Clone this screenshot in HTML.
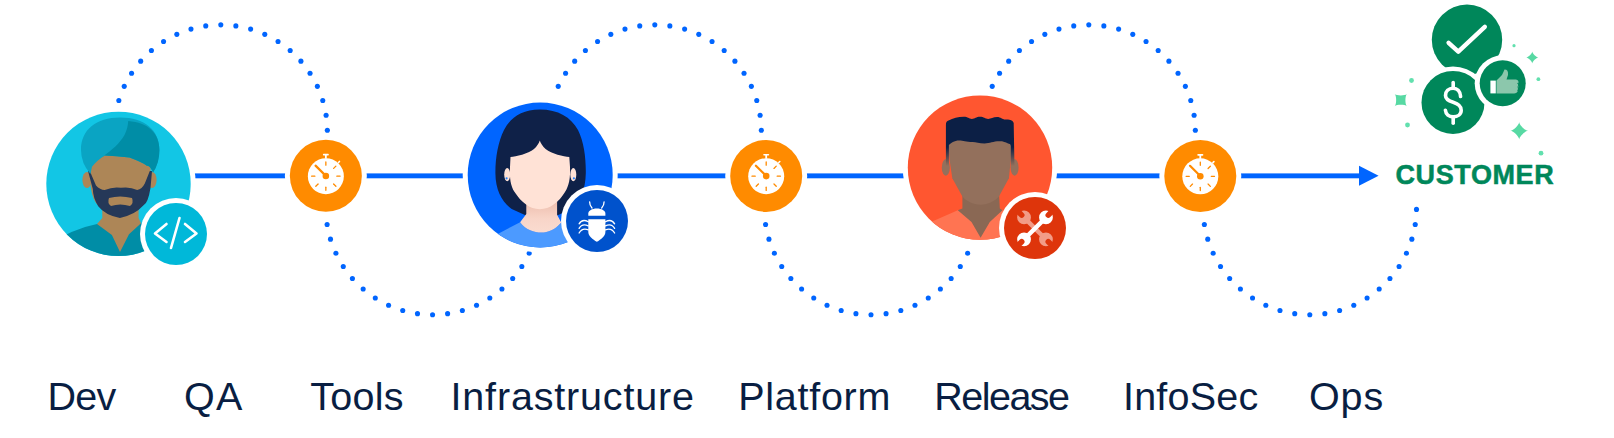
<!DOCTYPE html>
<html><head><meta charset="utf-8"><style>
html,body{margin:0;padding:0;background:#fff;}
body{width:1614px;height:438px;position:relative;overflow:hidden;font-family:"Liberation Sans",sans-serif;}
svg{position:absolute;left:0;top:0;}
.lb{position:absolute;top:373px;font-size:39.5px;line-height:46px;color:#091E42;white-space:nowrap;}
.cust{position:absolute;left:1395.5px;top:160.6px;font-size:27px;line-height:28px;font-weight:bold;color:#00875A;letter-spacing:0.6px;-webkit-text-stroke:0.5px #00875A;white-space:nowrap;}
</style></head><body>
<svg width="1614" height="438" viewBox="0 0 1614 438">
<g fill="#0065FF">
<circle cx="118.84" cy="100.47" r="2.55"/>
<circle cx="124.23" cy="86.37" r="2.55"/>
<circle cx="131.57" cy="73.18" r="2.55"/>
<circle cx="140.69" cy="61.15" r="2.55"/>
<circle cx="151.42" cy="50.53" r="2.55"/>
<circle cx="163.55" cy="41.54" r="2.55"/>
<circle cx="176.83" cy="34.35" r="2.55"/>
<circle cx="190.98" cy="29.11" r="2.55"/>
<circle cx="205.74" cy="25.92" r="2.55"/>
<circle cx="220.80" cy="24.85" r="2.55"/>
<circle cx="235.86" cy="25.92" r="2.55"/>
<circle cx="250.62" cy="29.11" r="2.55"/>
<circle cx="264.77" cy="34.35" r="2.55"/>
<circle cx="278.05" cy="41.54" r="2.55"/>
<circle cx="290.18" cy="50.53" r="2.55"/>
<circle cx="300.91" cy="61.15" r="2.55"/>
<circle cx="310.03" cy="73.18" r="2.55"/>
<circle cx="317.37" cy="86.37" r="2.55"/>
<circle cx="322.76" cy="100.47" r="2.55"/>
<circle cx="326.11" cy="115.19" r="2.55"/>
<circle cx="327.34" cy="130.24" r="2.55"/>
<circle cx="327.12" cy="224.44" r="2.55"/>
<circle cx="330.50" cy="239.15" r="2.55"/>
<circle cx="335.92" cy="253.24" r="2.55"/>
<circle cx="343.27" cy="266.43" r="2.55"/>
<circle cx="352.41" cy="278.45" r="2.55"/>
<circle cx="363.16" cy="289.05" r="2.55"/>
<circle cx="375.29" cy="298.03" r="2.55"/>
<circle cx="388.57" cy="305.22" r="2.55"/>
<circle cx="402.73" cy="310.45" r="2.55"/>
<circle cx="417.49" cy="313.63" r="2.55"/>
<circle cx="432.55" cy="314.70" r="2.55"/>
<circle cx="447.61" cy="313.63" r="2.55"/>
<circle cx="462.37" cy="310.45" r="2.55"/>
<circle cx="476.53" cy="305.22" r="2.55"/>
<circle cx="489.81" cy="298.03" r="2.55"/>
<circle cx="501.94" cy="289.05" r="2.55"/>
<circle cx="512.69" cy="278.45" r="2.55"/>
<circle cx="521.83" cy="266.43" r="2.55"/>
<circle cx="529.18" cy="253.24" r="2.55"/>
<circle cx="558.23" cy="86.37" r="2.55"/>
<circle cx="565.57" cy="73.18" r="2.55"/>
<circle cx="574.69" cy="61.15" r="2.55"/>
<circle cx="585.42" cy="50.53" r="2.55"/>
<circle cx="597.55" cy="41.54" r="2.55"/>
<circle cx="610.83" cy="34.35" r="2.55"/>
<circle cx="624.98" cy="29.11" r="2.55"/>
<circle cx="639.74" cy="25.92" r="2.55"/>
<circle cx="654.80" cy="24.85" r="2.55"/>
<circle cx="669.86" cy="25.92" r="2.55"/>
<circle cx="684.62" cy="29.11" r="2.55"/>
<circle cx="698.77" cy="34.35" r="2.55"/>
<circle cx="712.05" cy="41.54" r="2.55"/>
<circle cx="724.18" cy="50.53" r="2.55"/>
<circle cx="734.91" cy="61.15" r="2.55"/>
<circle cx="744.03" cy="73.18" r="2.55"/>
<circle cx="751.37" cy="86.37" r="2.55"/>
<circle cx="756.76" cy="100.47" r="2.55"/>
<circle cx="760.11" cy="115.19" r="2.55"/>
<circle cx="761.34" cy="130.24" r="2.55"/>
<circle cx="765.57" cy="224.44" r="2.55"/>
<circle cx="768.95" cy="239.15" r="2.55"/>
<circle cx="774.37" cy="253.24" r="2.55"/>
<circle cx="781.72" cy="266.43" r="2.55"/>
<circle cx="790.86" cy="278.45" r="2.55"/>
<circle cx="801.61" cy="289.05" r="2.55"/>
<circle cx="813.74" cy="298.03" r="2.55"/>
<circle cx="827.02" cy="305.22" r="2.55"/>
<circle cx="841.18" cy="310.45" r="2.55"/>
<circle cx="855.94" cy="313.63" r="2.55"/>
<circle cx="871.00" cy="314.70" r="2.55"/>
<circle cx="886.06" cy="313.63" r="2.55"/>
<circle cx="900.82" cy="310.45" r="2.55"/>
<circle cx="914.98" cy="305.22" r="2.55"/>
<circle cx="928.26" cy="298.03" r="2.55"/>
<circle cx="940.39" cy="289.05" r="2.55"/>
<circle cx="951.14" cy="278.45" r="2.55"/>
<circle cx="960.28" cy="266.43" r="2.55"/>
<circle cx="967.63" cy="253.24" r="2.55"/>
<circle cx="992.23" cy="86.37" r="2.55"/>
<circle cx="999.57" cy="73.18" r="2.55"/>
<circle cx="1008.69" cy="61.15" r="2.55"/>
<circle cx="1019.42" cy="50.53" r="2.55"/>
<circle cx="1031.55" cy="41.54" r="2.55"/>
<circle cx="1044.83" cy="34.35" r="2.55"/>
<circle cx="1058.98" cy="29.11" r="2.55"/>
<circle cx="1073.74" cy="25.92" r="2.55"/>
<circle cx="1088.80" cy="24.85" r="2.55"/>
<circle cx="1103.86" cy="25.92" r="2.55"/>
<circle cx="1118.62" cy="29.11" r="2.55"/>
<circle cx="1132.77" cy="34.35" r="2.55"/>
<circle cx="1146.05" cy="41.54" r="2.55"/>
<circle cx="1158.18" cy="50.53" r="2.55"/>
<circle cx="1168.91" cy="61.15" r="2.55"/>
<circle cx="1178.03" cy="73.18" r="2.55"/>
<circle cx="1185.37" cy="86.37" r="2.55"/>
<circle cx="1190.76" cy="100.47" r="2.55"/>
<circle cx="1194.11" cy="115.19" r="2.55"/>
<circle cx="1195.34" cy="130.24" r="2.55"/>
<circle cx="1204.37" cy="224.44" r="2.55"/>
<circle cx="1207.75" cy="239.15" r="2.55"/>
<circle cx="1213.17" cy="253.24" r="2.55"/>
<circle cx="1220.52" cy="266.43" r="2.55"/>
<circle cx="1229.66" cy="278.45" r="2.55"/>
<circle cx="1240.41" cy="289.05" r="2.55"/>
<circle cx="1252.54" cy="298.03" r="2.55"/>
<circle cx="1265.82" cy="305.22" r="2.55"/>
<circle cx="1279.98" cy="310.45" r="2.55"/>
<circle cx="1294.74" cy="313.63" r="2.55"/>
<circle cx="1309.80" cy="314.70" r="2.55"/>
<circle cx="1324.86" cy="313.63" r="2.55"/>
<circle cx="1339.62" cy="310.45" r="2.55"/>
<circle cx="1353.78" cy="305.22" r="2.55"/>
<circle cx="1367.06" cy="298.03" r="2.55"/>
<circle cx="1379.19" cy="289.05" r="2.55"/>
<circle cx="1389.94" cy="278.45" r="2.55"/>
<circle cx="1399.08" cy="266.43" r="2.55"/>
<circle cx="1406.43" cy="253.24" r="2.55"/>
<circle cx="1411.85" cy="239.15" r="2.55"/>
<circle cx="1415.23" cy="224.44" r="2.55"/>
<circle cx="1416.49" cy="209.39" r="2.55"/>
</g>
<rect x="185" y="173.4" width="1175" height="4.9" fill="#0065FF"/>
<polygon points="1359,165.7 1378.6,175.85 1359,185.8" fill="#0065FF"/>

<circle cx="118.5" cy="183.9" r="77.2" fill="#fff"/>
<clipPath id="cdev"><circle cx="118.5" cy="183.9" r="72.2"/></clipPath>
<circle cx="118.5" cy="183.9" r="72.2" fill="#12C6E5"/>
<g clip-path="url(#cdev)">
  <!-- shirt -->
  <path d="M30,262 L40,250 Q70,229 97,223.9 L141,223.2 Q165,229 190,250 L220,262 L220,300 L30,300 Z" fill="#008DA6"/>
  <!-- neck -->
  <path d="M102.3,205 L138.6,205 L138.6,218 L141,223.2 L129,234.3 L120,252.1 L111.9,235 L97,223.9 L102.3,218 Z" fill="#AD8657"/>
  <!-- ears -->
  <ellipse cx="87" cy="180" rx="4.6" ry="8" fill="#AD8657"/>
  <ellipse cx="152" cy="180" rx="4.6" ry="8" fill="#AD8657"/>
  <!-- face -->
  <path d="M90,150 L150.5,150 L150.5,180 Q149,196 144,203 Q134,215 120,218 Q106,215 96,203 Q91,196 90,180 Z" fill="#AD8657"/>
  <!-- beard -->
  <path d="M89.8,171 L96,185.6 Q100,190 104.7,190 Q113,186.5 121,187.8 Q130,186.5 137.2,190 Q142,189 144.8,183.4 L149.8,171 L152,171 L150.5,188 Q148,203 143.8,205.1 Q135,215 119.9,218 Q105,215 98.2,206.2 Q93,198 92.8,189 L88,171 Z" fill="#253858"/>
  <!-- mouth -->
  <path d="M109,198 Q120,195 132,198 Q134,203 130,206 Q120,203 111,206 Q107,203 109,198 Z" fill="#AD8657"/>
  <!-- turban -->
  <path d="M81,150 C81,130 96,117.6 120.2,117.6 C144.5,117.6 159.4,130 159.4,150 Q159.4,163 153,172.5 Q150,165 146.9,165.7 Q141.8,162.1 129.5,157.5 Q116.1,156 104.8,155.4 Q96.6,160.5 92,166.7 L90.4,174 Q81,163 81,150 Z" fill="#0AA4C3"/>
  <path d="M128.2,121 C148,122.5 159.4,133 159.4,150 Q159.4,163 153,172.5 Q150,165 146.9,165.7 Q141.8,162.1 129.5,157.5 Q116.1,156 104.8,155.4 L102.4,157 C112,150 120,143 124.5,135 C127,130 128,125 128.2,121 Z" fill="#008DA6"/>
</g>
<circle cx="176" cy="234" r="36" fill="#fff"/>
<circle cx="176" cy="234" r="31" fill="#00B8D9"/>
<g stroke="#fff" stroke-width="2.6" fill="none" stroke-linecap="round" stroke-linejoin="round">
  <polyline points="166.5,224 155,233.5 166.5,242"/>
  <polyline points="185,224 196.5,233.5 185,242"/>
  <line x1="179.5" y1="218" x2="171" y2="248"/>
</g>


<circle cx="325.85" cy="175.85" r="41" fill="#fff"/>
<circle cx="325.85" cy="175.85" r="36" fill="#FF8B00"/>
<rect x="324.95000000000005" y="154.65" width="1.8" height="4" fill="#fff"/>
<rect x="322.85" y="153.85" width="6" height="1.7" rx="0.8" fill="#fff"/>
<line x1="338.45000000000005" y1="162.45" x2="339.45000000000005" y2="161.45" stroke="#fff" stroke-width="1.6" stroke-linecap="round"/>
<circle cx="325.85" cy="176.15" r="18" fill="#fff"/>
<g stroke="#FF8B00" stroke-width="1.3" stroke-linecap="round"><line x1="325.85" y1="165.15" x2="325.85" y2="161.95"/><line x1="333.63" y1="168.37" x2="335.89" y2="166.11"/><line x1="336.85" y1="176.15" x2="340.05" y2="176.15"/><line x1="333.63" y1="183.93" x2="335.89" y2="186.19"/><line x1="325.85" y1="187.15" x2="325.85" y2="190.35"/><line x1="318.07" y1="183.93" x2="315.81" y2="186.19"/><line x1="314.85" y1="176.15" x2="311.65" y2="176.15"/></g>
<line x1="325.85" y1="175.85" x2="315.55" y2="165.65" stroke="#FF8B00" stroke-width="2.2" stroke-linecap="round"/>
<circle cx="325.85" cy="176.04999999999998" r="3.3" fill="#FF8B00"/>


<circle cx="540.2" cy="175" r="77.5" fill="#fff"/>
<clipPath id="cinf"><circle cx="540.2" cy="175" r="72.5"/></clipPath>
<linearGradient id="neckg" x1="0" y1="0" x2="0" y2="1">
  <stop offset="0" stop-color="#EBB9A8"/><stop offset="0.6" stop-color="#F8D5C8"/><stop offset="1" stop-color="#FADBD0"/>
</linearGradient>
<circle cx="540.2" cy="175" r="72.5" fill="#0065FF"/>
<g clip-path="url(#cinf)">
  <!-- hair back -->
  <path d="M539.8,109.4 C558,109.4 571,117 578,130 C584,142 586,158 585.8,173.2 C585.5,190 580,203 569.5,210 L557,215.5 L526,215.5 L511.7,209 C502,202 495.5,190 495.4,173.2 C495.3,158 498,142 504,130 C511,117 522,109.4 539.8,109.4 Z" fill="#0F2148"/>
  <!-- shirt -->
  <path d="M470,262 L498.2,233.8 L520.1,222.2 C526,230 534,232.5 541.4,232.5 C548,232.5 555,230 561.2,222.5 L600,236 L620,262 Z" fill="#4C9AFF"/>
  <!-- neck -->
  <path d="M526.3,198 L557.1,198 L557.1,214.7 L561.2,222.5 C555,230 548,232.5 541.4,232.5 C534,232.5 526,230 520.1,222.2 L526.3,214 Z" fill="url(#neckg)"/>
  <!-- ears -->
  <ellipse cx="507.2" cy="174.6" rx="3" ry="6.6" fill="#FFE2D6"/>
  <ellipse cx="573.3" cy="174.6" rx="3" ry="6.6" fill="#FFE2D6"/>
  <circle cx="506.6" cy="178.3" r="1.1" fill="#2684FF"/>
  <circle cx="573.9" cy="178.3" r="1.1" fill="#2684FF"/>
  <!-- face -->
  <path d="M510.5,157 C516,156.5 528,154 534,149 C537,146.5 538.8,143.5 539.8,140.6 C540.8,143.5 542.6,146.5 545.6,149 C551.6,154 563.6,156.5 569.3,157 L570,167 C570.5,178 569,186 565,192 C559,202 550,209.2 539.8,209.2 C529.6,209.2 521,202 514.6,192 C510.5,186 509.5,178 510,167 Z" fill="#FFE2D6"/>
</g>
<circle cx="597" cy="221" r="36" fill="#fff"/>
<circle cx="597" cy="221" r="31" fill="#0052CC"/>
<g fill="#fff">
  <path d="M588.3,215.8 L588.3,213.5 C588.3,210.5 592,208.4 596.85,208.4 C601.7,208.4 605.4,210.5 605.4,213.5 L605.4,215.8 Z"/>
  <path d="M588.3,219.3 L605.4,219.3 L605.4,232 C605.4,236 601,239.5 596.85,241.8 C592.7,239.5 588.3,236 588.3,232 Z"/>
</g>
<g stroke="#fff" stroke-width="1.3" fill="none" stroke-linecap="round">
  <path d="M589.6,201.8 Q589.6,205.5 592,208"/>
  <path d="M604.1,201.8 Q604.1,205.5 601.7,208"/>
  <path d="M588.3,221.8 C584.5,219.6 581,220.6 579.1,223.8"/>
  <path d="M588.3,225.8 C584.5,224 581,225 579.1,228.4"/>
  <path d="M588.3,229.8 C584.5,228.4 581,229.5 579.1,233"/>
  <path d="M605.4,221.8 C609.2,219.6 612.7,220.6 614.6,223.8"/>
  <path d="M605.4,225.8 C609.2,224 612.7,225 614.6,228.4"/>
  <path d="M605.4,229.8 C609.2,228.4 612.7,229.5 614.6,233"/>
</g>


<circle cx="766.2" cy="175.9" r="41" fill="#fff"/>
<circle cx="766.2" cy="175.9" r="36" fill="#FF8B00"/>
<rect x="765.3000000000001" y="154.70000000000002" width="1.8" height="4" fill="#fff"/>
<rect x="763.2" y="153.9" width="6" height="1.7" rx="0.8" fill="#fff"/>
<line x1="778.8000000000001" y1="162.5" x2="779.8000000000001" y2="161.5" stroke="#fff" stroke-width="1.6" stroke-linecap="round"/>
<circle cx="766.2" cy="176.20000000000002" r="18" fill="#fff"/>
<g stroke="#FF8B00" stroke-width="1.3" stroke-linecap="round"><line x1="766.20" y1="165.20" x2="766.20" y2="162.00"/><line x1="773.98" y1="168.42" x2="776.24" y2="166.16"/><line x1="777.20" y1="176.20" x2="780.40" y2="176.20"/><line x1="773.98" y1="183.98" x2="776.24" y2="186.24"/><line x1="766.20" y1="187.20" x2="766.20" y2="190.40"/><line x1="758.42" y1="183.98" x2="756.16" y2="186.24"/><line x1="755.20" y1="176.20" x2="752.00" y2="176.20"/></g>
<line x1="766.2" y1="175.9" x2="755.9000000000001" y2="165.70000000000002" stroke="#FF8B00" stroke-width="2.2" stroke-linecap="round"/>
<circle cx="766.2" cy="176.1" r="3.3" fill="#FF8B00"/>


<circle cx="980" cy="167.65" r="77.2" fill="#fff"/>
<clipPath id="crel"><circle cx="980" cy="167.65" r="72.2"/></clipPath>
<linearGradient id="hairg" x1="0" y1="0" x2="0" y2="1">
  <stop offset="0.59" stop-color="#0C1F45"/><stop offset="0.96" stop-color="#93705C"/>
</linearGradient>
<circle cx="980" cy="167.65" r="72.2" fill="#FF5630"/>
<g clip-path="url(#crel)">
  <!-- shirt -->
  <path d="M900,262 L900,232 L935,220.2 L957.8,210.2 L1002.5,210.2 L1015.3,215.7 L1060,240 L1060,262 Z" fill="#FF7452"/>
  <!-- neck -->
  <path d="M962.4,190 L998.9,190 L999.8,208.4 L1002.5,210.2 L989.8,222 L980.6,237.8 L971.5,222 L957.8,210.2 L962.4,208.4 Z" fill="#8A6854"/>
  <!-- ears -->
  <ellipse cx="945.8" cy="167.5" rx="4" ry="8.3" fill="#93705C"/>
  <ellipse cx="1014.6" cy="167.5" rx="4" ry="8.3" fill="#93705C"/>
  <!-- face -->
  <path d="M947.8,138 L1011.6,138 L1010.8,160 L1008.9,178.3 L998.9,196.5 C995,201 988,204.7 980.6,204.7 C973,204.7 966,201 962.4,196.5 L952.3,178.3 L949.6,160 Z" fill="#93705C"/>
  <!-- hair -->
  <path d="M945.9,168 L945.9,125 C945.9,122 947,121 948.5,120.5 C953,118 958,116.7 963.7,116.7 C968,116.7 969,118.9 971.9,118.9 C975,118.9 976,116.7 980,116.7 C984,116.7 985,118.9 988.2,118.9 C991,118.9 993,117.1 997.1,117.1 C1001,117.1 1002,119.6 1005.3,119.6 C1009,119.6 1012.7,120 1013.7,123 L1014.5,168 L1010.8,168 L1010.8,146 Q1010.5,144.3 1009.7,144.1 C1005,142 1003,141.2 999.3,141.2 C993,141.2 990,143.4 984.5,143.4 C979,143.4 976,141.9 972.6,141.9 C966,141.9 963,140.4 959.3,140.4 C954,140.4 951,143 948.9,144.9 L948.9,168 Z" fill="url(#hairg)"/>
</g>
<circle cx="1035" cy="228" r="36" fill="#fff"/>
<circle cx="1035" cy="228" r="31" fill="#DE350B"/>
<g transform="translate(1035,228.4) rotate(45)">
  <g fill="#F29C87"><rect x="-16" y="-2.2" width="32" height="4.4"/><circle cx="-15.5" cy="0" r="6.9"/><circle cx="15.5" cy="0" r="6.9"/></g>
  <g fill="#DE350B"><rect x="-24.5" y="-2.8" width="8.5" height="5.6" rx="2.8"/><rect x="16" y="-2.8" width="8.5" height="5.6" rx="2.8"/></g>
</g>
<g transform="translate(1035,228.4) rotate(-45)">
  <g fill="#fff"><rect x="-16" y="-2.2" width="32" height="4.4"/><circle cx="-15.5" cy="0" r="6.9"/><circle cx="15.5" cy="0" r="6.9"/></g>
  <g fill="#DE350B"><rect x="-24.5" y="-2.8" width="8.5" height="5.6" rx="2.8"/><rect x="16" y="-2.8" width="8.5" height="5.6" rx="2.8"/></g>
</g>


<circle cx="1200.3" cy="176" r="41" fill="#fff"/>
<circle cx="1200.3" cy="176" r="36" fill="#FF8B00"/>
<rect x="1199.3999999999999" y="154.8" width="1.8" height="4" fill="#fff"/>
<rect x="1197.3" y="154" width="6" height="1.7" rx="0.8" fill="#fff"/>
<line x1="1212.8999999999999" y1="162.6" x2="1213.8999999999999" y2="161.6" stroke="#fff" stroke-width="1.6" stroke-linecap="round"/>
<circle cx="1200.3" cy="176.3" r="18" fill="#fff"/>
<g stroke="#FF8B00" stroke-width="1.3" stroke-linecap="round"><line x1="1200.30" y1="165.30" x2="1200.30" y2="162.10"/><line x1="1208.08" y1="168.52" x2="1210.34" y2="166.26"/><line x1="1211.30" y1="176.30" x2="1214.50" y2="176.30"/><line x1="1208.08" y1="184.08" x2="1210.34" y2="186.34"/><line x1="1200.30" y1="187.30" x2="1200.30" y2="190.50"/><line x1="1192.52" y1="184.08" x2="1190.26" y2="186.34"/><line x1="1189.30" y1="176.30" x2="1186.10" y2="176.30"/></g>
<line x1="1200.3" y1="176" x2="1190.0" y2="165.8" stroke="#FF8B00" stroke-width="2.2" stroke-linecap="round"/>
<circle cx="1200.3" cy="176.2" r="3.3" fill="#FF8B00"/>


<circle cx="1467" cy="39.8" r="35.2" fill="#00875A"/>
<polyline points="1448.6,42.8 1458.3,51.6 1484.8,26.8" fill="none" stroke="#fff" stroke-width="4.4" stroke-linecap="round" stroke-linejoin="round"/>
<circle cx="1453" cy="102.4" r="36" fill="#fff"/>
<circle cx="1453" cy="102.4" r="31.5" fill="#00875A"/>
<circle cx="1502.7" cy="83.3" r="28" fill="#fff"/>
<circle cx="1502.7" cy="83.3" r="23" fill="#00875A"/>
<path d="M1460.6,96.5 C1460.2,91 1457,88.2 1453.2,88.2 C1448.5,88.2 1445.5,91.5 1445.5,95.5 C1445.5,99.6 1449,101 1453.2,102.3 C1458,103.8 1461.2,106 1461.2,110.2 C1461.2,114.5 1457.5,116.9 1453.2,116.9 C1449,116.9 1445.8,114.5 1445.4,110.2" fill="none" stroke="#fff" stroke-width="3.6" stroke-linecap="round"/>
<line x1="1453.2" y1="82.6" x2="1453.2" y2="88.2" stroke="#fff" stroke-width="3.6" stroke-linecap="round"/>
<line x1="1453.2" y1="116.9" x2="1453.2" y2="123.3" stroke="#fff" stroke-width="3.6" stroke-linecap="round"/>
<rect x="1490.4" y="80.6" width="5.4" height="12.8" fill="#fff"/>
<path d="M1496.5,80.6 L1502,75 Q1504,71 1504.5,69.6 Q1508.5,69.5 1508,75 L1506.5,79.5 L1516,79.5 Q1518.7,80 1518.5,82.5 Q1517.5,84.5 1518.5,86.5 Q1517.5,88.5 1518,90.5 Q1517,93.4 1514,93.4 L1496.5,93.4 Z" fill="#8CC7AC"/>
<g stroke="#00875A" stroke-width="0.8"><line x1="1517.2" y1="83.4" x2="1519.5" y2="83.4"/><line x1="1517.2" y1="87" x2="1519.5" y2="87"/><line x1="1517.2" y1="90.4" x2="1519.5" y2="90.4"/></g>

<path transform="rotate(0 1532.3 57.6)" d="M1532.3,51.6 C1532.3,53.52 1536.3799999999999,57.6 1538.3,57.6 C1536.3799999999999,57.6 1532.3,61.68 1532.3,63.6 C1532.3,61.68 1528.22,57.6 1526.3,57.6 C1528.22,57.6 1532.3,53.52 1532.3,51.6 Z" fill="#57D9A3"/>
<path transform="rotate(45 1400.8 100.1)" d="M1400.8,91.5 C1400.8,94.252 1406.648,100.1 1409.3999999999999,100.1 C1406.648,100.1 1400.8,105.948 1400.8,108.69999999999999 C1400.8,105.948 1394.952,100.1 1392.2,100.1 C1394.952,100.1 1400.8,94.252 1400.8,91.5 Z" fill="#57D9A3"/>
<path transform="rotate(0 1519.2 130.8)" d="M1519.2,122.10000000000001 C1519.2,124.88400000000001 1525.116,130.8 1527.9,130.8 C1525.116,130.8 1519.2,136.716 1519.2,139.5 C1519.2,136.716 1513.284,130.8 1510.5,130.8 C1513.284,130.8 1519.2,124.88400000000001 1519.2,122.10000000000001 Z" fill="#57D9A3"/>
<circle cx="1514" cy="45.7" r="1.6" fill="#62E0AE"/>
<circle cx="1538.4" cy="79.2" r="1.9" fill="#62E0AE"/>
<circle cx="1411.5" cy="80.5" r="2.4" fill="#62E0AE"/>
<circle cx="1407.5" cy="125" r="2.4" fill="#62E0AE"/>
<circle cx="1541" cy="153.2" r="2.4" fill="#62E0AE"/>
</svg>
<div class="lb" style="left:47.6px;letter-spacing:-0.85px">Dev</div>
<div class="lb" style="left:184.1px;letter-spacing:1.2px">QA</div>
<div class="lb" style="left:310.2px;letter-spacing:0.3px">Tools</div>
<div class="lb" style="left:450.5px;letter-spacing:0.83px">Infrastructure</div>
<div class="lb" style="left:738.3px;letter-spacing:0.71px">Platform</div>
<div class="lb" style="left:934.3px;letter-spacing:-1.53px">Release</div>
<div class="lb" style="left:1123px;letter-spacing:0.2px">InfoSec</div>
<div class="lb" style="left:1309px;letter-spacing:0.9px">Ops</div>
<div class="cust">CUSTOMER</div>
</body></html>
